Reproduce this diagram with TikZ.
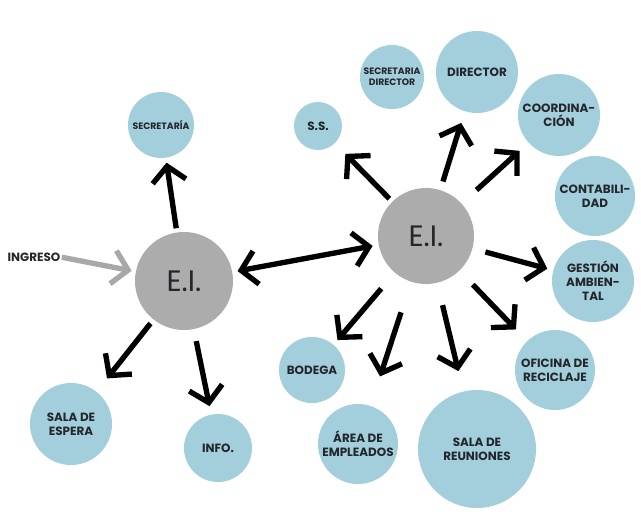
\documentclass[tikz,border=0pt]{standalone}
\usepackage{fontspec}
\setmainfont{Poppins}
\usetikzlibrary{arrows.meta}
\definecolor{bubble}{RGB}{163,207,221}
\definecolor{eigrey}{RGB}{172,172,172}
\definecolor{ingrey}{RGB}{168,168,168}
\definecolor{ink}{RGB}{35,38,42}

\begin{document}
\begin{tikzpicture}[x=0.025cm, y=-0.025cm,
  bub/.style={circle, fill=bubble, inner sep=0pt, minimum size=#1},
  lbl/.style={align=center, text=ink, inner sep=0pt, font=\fontsize{8.5}{10}\selectfont\bfseries},
  smalllbl/.style={lbl, font=\fontsize{6.6}{7.8}\selectfont\bfseries},
  hub/.style={circle, fill=eigrey, inner sep=0pt, minimum size=#1, text=ink,
    font=\fontsize{21}{24}\selectfont},
  arr/.style={line width=3.8pt, -{Straight Barb[length=3.8mm, width=8.4mm]}},
  inarr/.style={arr, draw=ingrey}
]
\useasboundingbox (0,0) rectangle (641,522);

\node[hub=2.45cm] (ei1) at (184,281) {E.I.};
\node[hub=2.4cm]  (ei2) at (426,236) {E.I.};

\node[bub=1.65cm, label={[smalllbl]center:SECRETARÍA}] (secr) at (161,125) {};
\node[bub=2.05cm, label={[lbl]center:SALA DE\\ESPERA}] (espera) at (71,424) {};
\node[bub=1.7cm, label={[lbl]center:INFO.}] (info) at (218,448) {};
\node[lbl] (ingreso) at (34,257) {INGRESO};

\node[bub=1.2cm, label={[lbl]center:S.S.}] (ss) at (318,126) {};
\node[bub=1.6cm, label={[smalllbl]center:SECRETARIA\\DIRECTOR}] (secdir) at (392,77) {};
\node[bub=2.05cm, label={[lbl]center:DIRECTOR}] (dir) at (477,72) {};
\node[bub=2.05cm, label={[lbl]center:COORDINA-\\CIÓN}] (coord) at (559,115) {};
\node[bub=2.0cm, label={[lbl]center:CONTABILI-\\DAD}] (cont) at (595,196) {};
\node[bub=2.05cm, label={[lbl]center:GESTIÓN\\AMBIEN-\\TAL}] (gest) at (593,281) {};
\node[bub=2.0cm, label={[lbl]center:OFICINA DE\\RECICLAJE}] (ofi) at (555,370) {};
\node[bub=2.95cm, label={[lbl]center:SALA DE\\REUNIONES}] (reun) at (477,449) {};
\node[bub=2.0cm, label={[lbl]center:ÁREA DE\\EMPLEADOS}] (area) at (358,444) {};
\node[bub=1.65cm, label={[lbl]center:BODEGA}] (bod) at (312,370) {};

\draw[inarr, shorten <=0.3mm, shorten >=1mm] (ingreso.east) -- (ei1);
\draw[arr, shorten <=1mm, shorten >=1.2mm] (ei1) -- (secr);
\draw[arr, shorten <=1.2mm, shorten >=4.2mm] (ei1) -- (espera);
\draw[arr, shorten <=3mm, shorten >=2.1mm] (ei1) -- (info);
\draw[arr, {Straight Barb[length=3.8mm, width=8.4mm]}-{Straight Barb[length=3.8mm, width=8.4mm]},
  shorten <=1.3mm, shorten >=1.5mm] (ei1) -- (ei2);

\draw[arr, shorten <=1mm, shorten >=3.7mm] (ei2) -- (ss);
\draw[arr, shorten <=2.2mm, shorten >=3mm] (ei2) -- (dir);
\draw[arr, shorten <=5mm, shorten >=3mm] (ei2) -- (coord);
\draw[arr, shorten <=3.3mm, shorten >=1.5mm] (ei2) -- (gest);
\draw[arr, shorten <=4.8mm, shorten >=4mm] (ei2) -- (ofi);
\draw[arr, shorten <=5.7mm, shorten >=5.2mm] (ei2) -- (reun);
\draw[arr, shorten <=8mm, shorten >=7.7mm] (ei2) -- (area);
\draw[arr, shorten <=5.2mm, shorten >=1.5mm] (ei2) -- (bod);
\end{tikzpicture}
\end{document}
